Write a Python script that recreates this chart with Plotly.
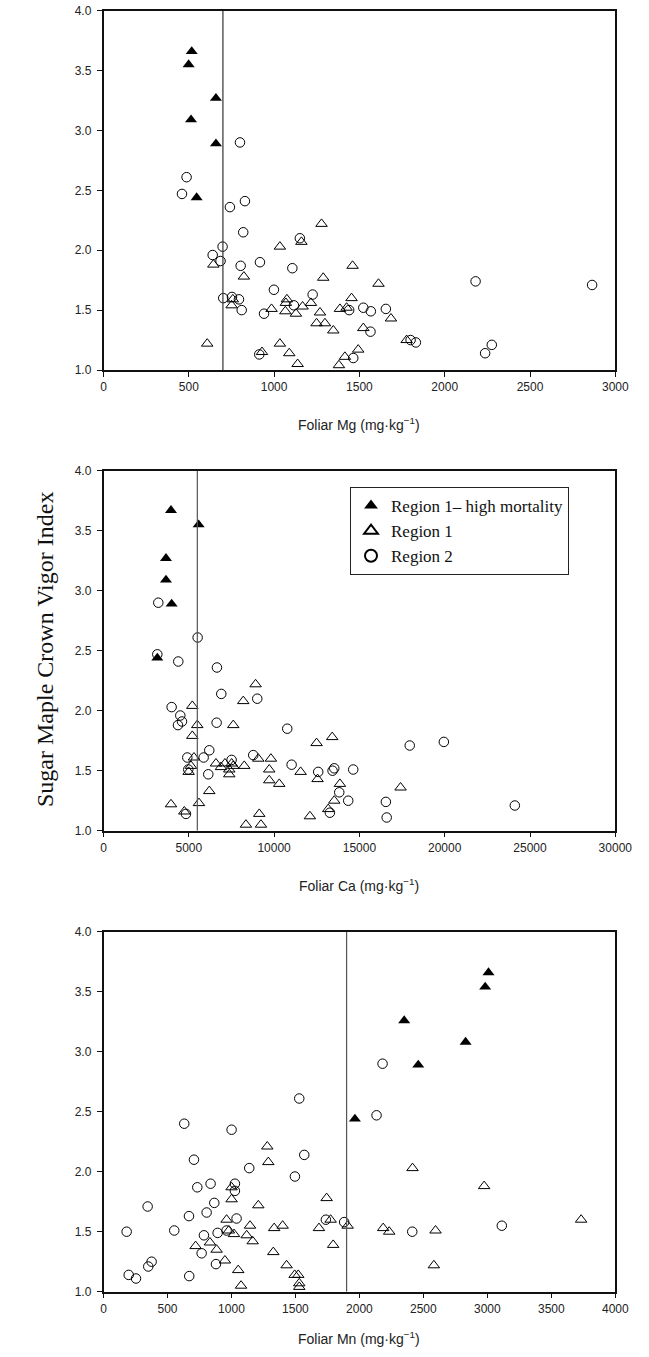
import plotly.graph_objects as go

# ---------------- data ----------------
# Panel 1: Foliar Mg
mg_high_x = [517, 499, 659, 513, 659, 546]
mg_high_y = [3.66, 3.55, 3.27, 3.09, 2.89, 2.44]
mg_r1_x = [644, 823, 1278, 1034, 1460, 1288, 1612, 1160, 758, 751, 1075, 1069, 1066, 985, 1128, 1167,
           1216, 1269, 1249, 1298, 1347, 1386, 1425, 1454, 1523, 1685, 1777, 608, 929, 1034, 1089, 1138,
           1380, 1415, 1493]
mg_r1_y = [1.88, 1.78, 2.22, 2.03, 1.87, 1.77, 1.72, 2.07, 1.59, 1.54, 1.59, 1.56, 1.49, 1.51, 1.47, 1.53,
           1.56, 1.48, 1.39, 1.39, 1.33, 1.51, 1.52, 1.60, 1.35, 1.43, 1.25, 1.22, 1.15, 1.22, 1.14, 1.05,
           1.04, 1.11, 1.17]
mg_r2_x = [800, 487, 460, 829, 741, 819, 1151, 698, 640, 686, 804, 917, 1107, 999, 1226, 702, 753, 794,
           810, 1116, 941, 1440, 1523, 1567, 1565, 1655, 913, 1464, 1800, 1831, 2181, 2864, 2237, 2276]
mg_r2_y = [2.90, 2.61, 2.47, 2.41, 2.36, 2.15, 2.10, 2.03, 1.96, 1.91, 1.87, 1.90, 1.85, 1.67, 1.63, 1.60,
           1.61, 1.59, 1.50, 1.54, 1.47, 1.50, 1.52, 1.49, 1.32, 1.51, 1.13, 1.10, 1.25, 1.23, 1.74, 1.71,
           1.14, 1.21]

# Panel 2: Foliar Ca
ca_high_x = [3955, 5578, 3662, 3662, 3994, 3154]
ca_high_y = [3.67, 3.55, 3.27, 3.09, 2.89, 2.44]
ca_r1_x = [8915, 8192, 5205, 5497, 7607, 5205, 12490, 13407, 5303, 5127, 4990, 6200, 6592, 6885, 7119,
           7510, 7607, 7373, 7373, 8250, 9072, 9814, 9716, 9716, 10302, 11554, 12548, 13857, 13525, 13173,
           12099, 9130, 3955, 4736, 5595, 17412, 8350, 9230]
ca_r1_y = [2.22, 2.08, 2.04, 1.88, 1.88, 1.79, 1.73, 1.78, 1.61, 1.54, 1.49, 1.33, 1.56, 1.53, 1.56,
           1.56, 1.54, 1.47, 1.51, 1.54, 1.60, 1.60, 1.51, 1.42, 1.39, 1.49, 1.43, 1.39, 1.25, 1.18,
           1.12, 1.14, 1.22, 1.16, 1.23, 1.36, 1.05, 1.05]
ca_r2_x = [3212, 5518, 3154, 4384, 6650, 6904, 9013, 3994, 4502, 4600, 4365, 6630, 10770, 6200, 4912,
           5869, 4970, 6142, 7510, 8777, 11027, 12587, 13427, 13525, 14638, 13818, 14345, 13271, 4834,
           16552, 16600, 17950, 19950, 24110]
ca_r2_y = [2.90, 2.61, 2.47, 2.41, 2.36, 2.14, 2.10, 2.03, 1.96, 1.91, 1.88, 1.90, 1.85, 1.67, 1.61,
           1.61, 1.51, 1.47, 1.59, 1.63, 1.55, 1.49, 1.50, 1.52, 1.51, 1.32, 1.25, 1.15, 1.14,
           1.24, 1.11, 1.71, 1.74, 1.21]

# Panel 3: Foliar Mn
mn_high_x = [3009, 2983, 2350, 2830, 2460, 1965]
mn_high_y = [3.66, 3.54, 3.26, 3.08, 2.89, 2.44]
mn_r1_x = [1280, 1288, 1001, 1001, 1744, 1210, 962, 1775, 1908, 2186, 2233, 1145, 1334, 1400, 1684, 980,
           1020, 1119, 1166, 832, 720, 884, 1327, 1795, 949, 1431, 1053, 1494, 1522, 2415, 2975, 2595,
           3733, 2582, 1075, 1530, 1530]
mn_r1_y = [2.21, 2.08, 1.87, 1.77, 1.78, 1.72, 1.60, 1.60, 1.55, 1.53, 1.50, 1.55, 1.53, 1.55, 1.53, 1.51,
           1.48, 1.47, 1.42, 1.41, 1.38, 1.35, 1.33, 1.39, 1.26, 1.22, 1.18, 1.14, 1.14, 2.03, 1.88, 1.51,
           1.60, 1.22, 1.05, 1.07, 1.04]
mn_r2_x = [2181, 2134, 1530, 631, 1001, 1569, 707, 1139, 1496, 1027, 1027, 837, 733, 866, 345, 806, 668,
           1040, 1738, 1881, 2413, 181, 553, 962, 785, 892, 767, 879, 376, 350, 197, 254, 670, 3113]
mn_r2_y = [2.90, 2.47, 2.61, 2.40, 2.35, 2.14, 2.10, 2.03, 1.96, 1.90, 1.84, 1.90, 1.87, 1.74, 1.71, 1.66,
           1.63, 1.61, 1.60, 1.58, 1.50, 1.50, 1.51, 1.51, 1.47, 1.49, 1.32, 1.23, 1.25, 1.21, 1.14, 1.11,
           1.13, 1.55]

thresholds = [700, 5500, 1900]
x_ranges = [[0, 3000], [0, 30000], [0, 4000]]
x_dticks = [500, 5000, 500]
x_titles = ["Foliar Mg (mg·kg<sup>−1</sup>)", "Foliar Ca (mg·kg<sup>−1</sup>)",
            "Foliar Mn (mg·kg<sup>−1</sup>)"]
group_names = ["Region 1– high mortality", "Region 1", "Region 2"]

panels = [
    (mg_high_x, mg_high_y, mg_r1_x, mg_r1_y, mg_r2_x, mg_r2_y),
    (ca_high_x, ca_high_y, ca_r1_x, ca_r1_y, ca_r2_x, ca_r2_y),
    (mn_high_x, mn_high_y, mn_r1_x, mn_r1_y, mn_r2_x, mn_r2_y),
]

# ---------------- layout geometry (pixels) ----------------
W, H = 649, 1357
left, right = 103.5, 615.3
tops = [10.7, 470.7, 931.7]
bottoms = [370.0, 830.7, 1291.7]
title_y = [424, 885, 1338]

fig = go.Figure()
sans = "Liberation Sans, Arial, sans-serif"
serif = "Liberation Serif, Times New Roman, serif"

for i, (hx, hy, r1x, r1y, r2x, r2y) in enumerate(panels):
    sfx = "" if i == 0 else str(i + 1)
    xa, ya = "x" + sfx, "y" + sfx
    show = (i == 1)
    fig.add_trace(go.Scatter(x=r2x, y=r2y, mode="markers", name=group_names[2], xaxis=xa, yaxis=ya,
                             legendrank=3, showlegend=show,
                             marker=dict(symbol="circle-open", size=9.5, color="black",
                                         line=dict(width=1, color="black"))))
    fig.add_trace(go.Scatter(x=r1x, y=r1y, mode="markers", name=group_names[1], xaxis=xa, yaxis=ya,
                             legendrank=2, showlegend=show,
                             marker=dict(symbol="triangle-up-open", size=10, color="black",
                                         line=dict(width=1, color="black"))))
    fig.add_trace(go.Scatter(x=hx, y=hy, mode="markers", name=group_names[0], xaxis=xa, yaxis=ya,
                             legendrank=1, showlegend=show,
                             marker=dict(symbol="triangle-up", size=10.5, color="black",
                                         line=dict(width=0))))
    fig.add_shape(type="line", xref=xa, yref=ya, x0=thresholds[i], x1=thresholds[i], y0=1, y1=4,
                  line=dict(color="#333333" if i == 0 else "#555555", width=1.2))
    dom_y = [1 - bottoms[i] / H, 1 - tops[i] / H]
    axis_common = dict(showline=True, linecolor="#111111", linewidth=1.5, mirror=True,
                       ticks="outside", ticklen=5, tickcolor="#111111", tickwidth=1,
                       showgrid=False, zeroline=False, automargin=False,
                       tickfont=dict(family=sans, size=12, color="#222222"))
    fig.update_layout(**{
        ("xaxis" + sfx): dict(domain=[left / W, right / W], anchor=ya, range=x_ranges[i],
                              dtick=x_dticks[i], tick0=0, tickformat="d", **axis_common),
        ("yaxis" + sfx): dict(domain=dom_y, anchor=xa, range=[1, 4], dtick=0.5, tick0=1,
                              tickformat=".1f", ticklabelstandoff=3, **axis_common),
    })
    fig.add_annotation(text=x_titles[i], xref="paper", yref="paper", x=(left + right) / 2 / W,
                       y=1 - title_y[i] / H, showarrow=False, xanchor="center", yanchor="middle",
                       font=dict(family=sans, size=14, color="#222222"))

fig.add_annotation(text="Sugar Maple Crown Vigor Index", xref="paper", yref="paper",
                   x=45 / W, y=1 - 650 / H, textangle=-90, showarrow=False,
                   xanchor="center", yanchor="middle",
                   font=dict(family=serif, size=24, color="#111111"))

fig.update_layout(
    template="none",
    width=W, height=H, margin=dict(l=0, r=0, t=0, b=0, pad=0, autoexpand=False),
    paper_bgcolor="white", plot_bgcolor="white",
    legend=dict(x=350 / W, y=1 - 487 / H, xanchor="left", yanchor="top",
                bordercolor="#222222", borderwidth=1, bgcolor="white",
                font=dict(family=serif, size=17, color="#111111"),
                itemsizing="constant", tracegroupgap=0),
)

fig.write_html("out.html")
